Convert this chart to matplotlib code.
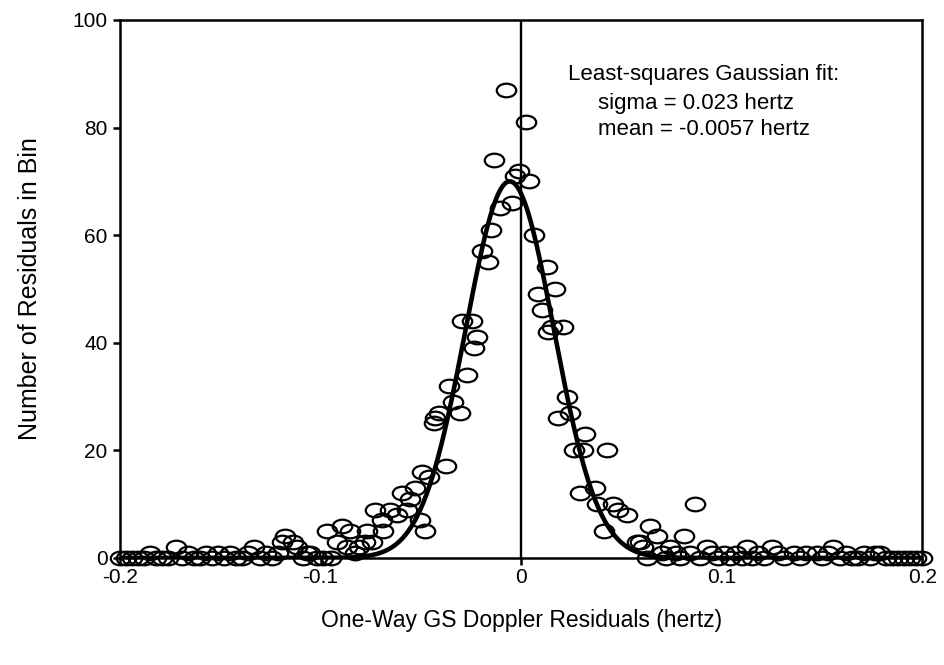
import numpy as np
import matplotlib
matplotlib.use("Agg")
import matplotlib.pyplot as plt
from matplotlib.path import Path
from matplotlib.transforms import Affine2D

plt.rcParams['font.family'] = ['Liberation Sans', 'DejaVu Sans']

# Residual bin centres (hertz) and counts
bin_x = [
    -0.200, -0.197, -0.194, -0.191, -0.188, -0.185, -0.182, -0.179, -0.176, -0.172,
    -0.169, -0.166, -0.163, -0.160, -0.157, -0.154, -0.151, -0.148, -0.145, -0.142,
    -0.139, -0.136, -0.133, -0.130, -0.127, -0.124, -0.121, -0.1194, -0.1177, -0.1136,
    -0.112, -0.109, -0.107, -0.1052, -0.102, -0.099, -0.0969, -0.095, -0.0919, -0.0894,
    -0.087, -0.0853, -0.083, -0.0811, -0.0778, -0.077, -0.0745, -0.0728, -0.0695, -0.0687,
    -0.0653, -0.062, -0.0595, -0.057, -0.0554, -0.0529, -0.0502, -0.0492, -0.0479, -0.0462,
    -0.0437, -0.0429, -0.0412, -0.0374, -0.0358, -0.0338, -0.0307, -0.0296, -0.027, -0.0246,
    -0.0234, -0.0218, -0.0196, -0.0165, -0.015, -0.0133, -0.0105, -0.0075, -0.0047, -0.003,
    -0.0013, 0.0025, 0.0037, 0.0066, 0.0086, 0.0103, 0.0128, 0.0135, 0.0153, 0.017,
    0.0186, 0.021, 0.0228, 0.0245, 0.0264, 0.0295, 0.0307, 0.032, 0.037, 0.0378,
    0.0411, 0.0427, 0.046, 0.0485, 0.0527, 0.0577, 0.0594, 0.0605, 0.0625, 0.0643,
    0.0677, 0.070, 0.072, 0.0743, 0.077, 0.079, 0.081, 0.084, 0.0865, 0.089,
    0.0926, 0.095, 0.098, 0.101, 0.104, 0.107, 0.110, 0.1126, 0.115, 0.118,
    0.121, 0.125, 0.128, 0.131, 0.1358, 0.139, 0.142, 0.1475, 0.150, 0.153,
    0.1557, 0.159, 0.162, 0.165, 0.168, 0.171, 0.174, 0.1765, 0.179, 0.182,
    0.185, 0.188, 0.191, 0.194, 0.197, 0.200,
]
bin_counts = [
    0, 0, 0, 0, 0, 1, 0, 0, 0, 2,
    0, 1, 0, 0, 1, 0, 1, 0, 1, 0,
    0, 1, 2, 0, 1, 0, 1, 3, 4, 3,
    2, 0, 1, 1, 0, 0, 5, 0, 3, 6,
    2, 5, 1, 2, 3, 5, 3, 9, 7, 5,
    9, 8, 12, 9, 11, 13, 7, 16, 5, 15,
    25, 26, 27, 17, 32, 29, 27, 44, 34, 44,
    39, 41, 57, 55, 61, 74, 65, 87, 66, 71,
    72, 81, 70, 60, 49, 46, 54, 42, 43, 50,
    26, 43, 30, 27, 20, 12, 20, 23, 13, 10,
    5, 20, 10, 9, 8, 3, 3, 2, 0, 6,
    4, 1, 0, 2, 1, 0, 4, 1, 10, 0,
    2, 1, 0, 1, 0, 1, 0, 2, 0, 1,
    0, 2, 1, 0, 1, 0, 1, 1, 0, 1,
    2, 0, 1, 0, 0, 1, 0, 1, 1, 0,
    0, 0, 0, 0, 0, 0,
]

# Least-squares Gaussian fit parameters
fit_amplitude = 70.0
fit_sigma = 0.022
fit_mean = -0.0057

x_ticks = [-0.2, -0.1, 0, 0.1, 0.2]
x_tick_labels = ["-0.2", "-0.1", "0", "0.1", "0.2"]
y_ticks = [0, 20, 40, 60, 80, 100]
y_tick_labels = ["0", "20", "40", "60", "80", "100"]

fig = plt.figure(figsize=(9.45, 6.65), dpi=100)
ax = fig.add_axes([0.127, 0.161, 0.849, 0.809])

# ellipse marker
circ = Path.unit_circle()
ell = circ.transformed(Affine2D().scale(1.0, 0.70))

xs = np.linspace(-0.2, 0.2, 800)
ys = fit_amplitude * np.exp(-(xs - fit_mean) ** 2 / (2 * fit_sigma ** 2))

ax.axvline(0, color='black', lw=1.7, zorder=1)
ax.plot(bin_x, bin_counts, linestyle='none', marker=ell, markersize=14,
        markerfacecolor='none', markeredgecolor='black', markeredgewidth=1.6,
        clip_on=False, zorder=3)
ax.plot(xs, ys, color='black', lw=3.3, zorder=4, solid_capstyle='round')

ax.set_xlim(-0.2, 0.2)
ax.set_ylim(0, 100)
ax.set_xticks(x_ticks)
ax.set_xticklabels(x_tick_labels)
ax.set_yticks(y_ticks)
ax.set_yticklabels(y_tick_labels)
for s in ax.spines.values():
    s.set_linewidth(1.8)
ax.tick_params(axis='both', direction='out', length=5, width=1.8,
               labelsize=15, pad=4)
ax.tick_params(axis='x', pad=2)

ax.set_xlabel("One-Way GS Doppler Residuals (hertz)", fontsize=16.5, labelpad=16)
ax.set_ylabel("Number of Residuals in Bin", fontsize=18, labelpad=22)

ax.text(0.0234, 89.8, "Least-squares Gaussian fit:", fontsize=16, ha='left', va='center')
ax.text(0.0384, 84.4, "sigma = 0.023 hertz", fontsize=16, ha='left', va='center')
ax.text(0.0384, 79.6, "mean = -0.0057 hertz", fontsize=16, ha='left', va='center')

fig.savefig("out.png", dpi=100)
